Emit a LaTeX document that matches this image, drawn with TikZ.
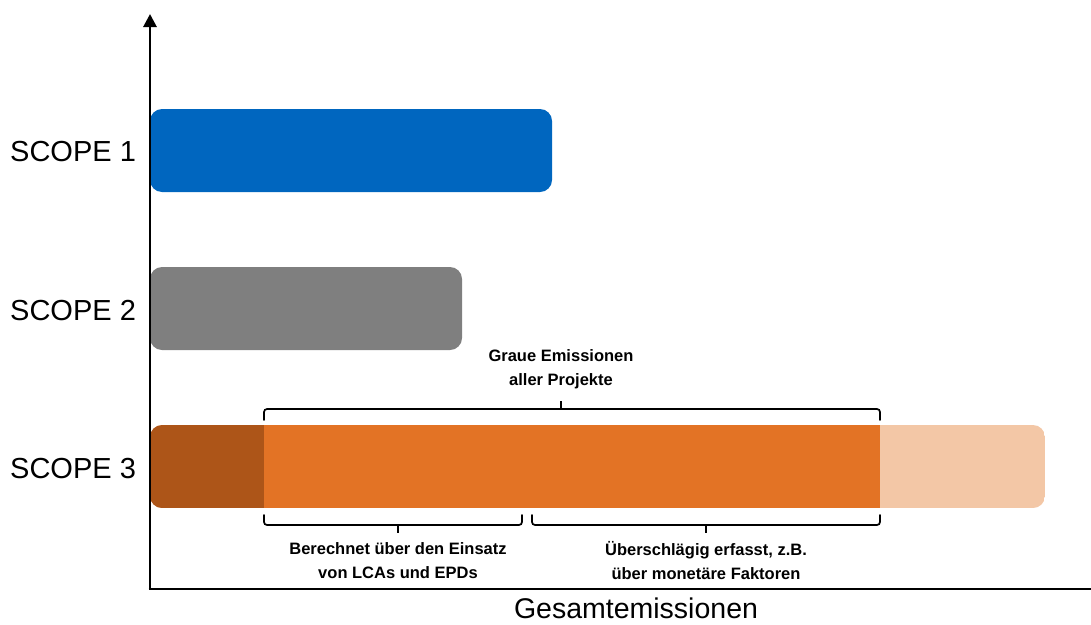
\documentclass[tikz,border=0pt]{standalone}
\usepackage{fontspec}
\setmainfont{Liberation Sans}
\usetikzlibrary{arrows.meta}
\definecolor{scopeblue}{HTML}{0066BF}
\definecolor{scopegray}{HTML}{7F7F7F}
\definecolor{orangedark}{HTML}{AD5518}
\definecolor{orangemid}{HTML}{E37325}
\definecolor{orangelight}{HTML}{F3C7A6}
\tikzset{
  axis/.style={line width=2.8pt},
  bracket/.style={line width=1.7pt, rounded corners=3pt, line cap=round},
  scopelabel/.style={font=\fontsize{29}{33}\selectfont, anchor=west, inner sep=0pt},
  notelabel/.style={font=\fontsize{16.5}{24}\selectfont\bfseries, align=center, inner sep=0pt},
}
\begin{document}
\begin{tikzpicture}[x=1pt,y=-1pt]
\useasboundingbox (0,0) rectangle (1091,624);

% bars
\fill[scopeblue, rounded corners=12pt] (150,109) rectangle (552,192);
\fill[scopegray, rounded corners=12pt] (150,267) rectangle (462,350);
\begin{scope}
  \clip[rounded corners=12pt] (150,425) rectangle (1045,508);
  \fill[orangelight] (150,425) rectangle (1045,508);
  \fill[orangemid] (264,425) rectangle (880,508);
  \fill[orangedark] (150,425) rectangle (264,508);
\end{scope}

% axes
\coordinate (origin) at (150,589);
\coordinate (ytop) at (150,14);
\coordinate (xend) at (1091,589);
\draw[axis, -{Triangle[width=13pt,length=13pt]}] (origin) -- (ytop);
\draw[axis] ([xshift=-1.4pt]origin) -- (xend);

% scope labels
\node[scopelabel] (s1) at (10,152) {SCOPE 1};
\node[scopelabel] (s2) at (10,311) {SCOPE 2};
\node[scopelabel] (s3) at (10,469) {SCOPE 3};

% axis title
\node[font=\fontsize{28.5}{32}\selectfont, inner sep=0pt] (xtitle) at (636,608) {Gesamtemissionen};

% bracket above scope 3
\draw[bracket] (264,420) -- (264,409) -- (880,409) -- (880,420);
\draw[line width=1.7pt] (561,409) -- (561,401);
\node[notelabel] (graue) at (561,369) {Graue Emissionen\\aller Projekte};

% brackets below scope 3
\draw[bracket] (264,515) -- (264,525) -- (522,525) -- (522,515);
\draw[line width=1.7pt] (398,525) -- (398,533);
\draw[bracket] (532,515) -- (532,525) -- (880,525) -- (880,515);
\draw[line width=1.7pt] (706,525) -- (706,533);
\node[notelabel] (lca) at (398,561) {Berechnet über den Einsatz\\von LCAs und EPDs};
\node[notelabel] (mon) at (706,561) {Überschlägig erfasst, z.B.\\über monetäre Faktoren};
\end{tikzpicture}
\end{document}
